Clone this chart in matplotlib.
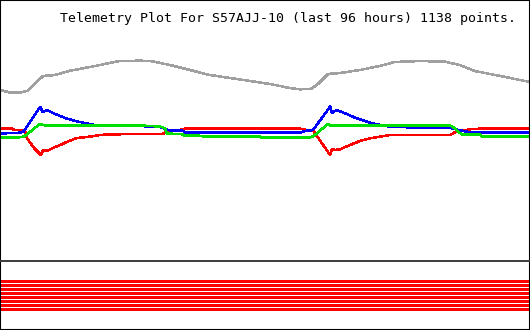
import matplotlib
matplotlib.use("Agg")
import matplotlib.pyplot as plt

# --- datos (horas, nivel arbitrario) ---
gray_t = [0.0, 1.8, 3.6, 4.9, 7.8, 10.0, 12.7, 16.3, 19.0, 21.7, 25.4, 27.2, 30.8,
          34.4, 38.0, 41.7, 45.3, 48.9, 52.5, 54.3, 56.3, 57.6, 59.4, 61.6, 65.2,
          68.8, 71.5, 76.1, 80.6, 83.3, 86.0, 90.6, 96.0]
gray_v = [171, 168.5, 168.5, 170, 185, 186, 190.3, 194, 197, 200, 200.3, 200, 196,
          191, 186, 183, 180, 177, 173, 171.7, 172, 177, 187, 188, 191,
          195, 199, 200, 199.3, 196, 190, 185, 179]

red_t = [0.0, 2.2, 2.4, 4.5, 4.9, 6.0, 7.4, 7.8, 8.5, 9.6, 10.9, 12.1, 13.9, 15.8,
         18.1, 19.9, 29.5, 30.2, 31.7, 33.1, 33.5, 54.3, 55.6, 56.7, 59.8, 60.1,
         60.7, 61.6, 63.4, 65.2, 67.0, 68.8, 70.6, 81.5, 82.4, 83.7, 85.1, 86.9, 96.0]
red_v = [132.3, 132.3, 131.3, 130.5, 123, 114, 106, 111, 110, 113, 116, 119, 123, 124,
         126, 126.7, 127, 130, 130.3, 131.7, 132.3, 132.3, 131, 130.5, 106, 112,
         111, 111.7, 116, 120, 122.7, 124.3, 126, 126, 128.7, 130.3, 131.7, 132.3, 132.5]

blue_t = [0.0, 3.6, 4.3, 7.2, 7.4, 7.6, 7.8, 8.2, 8.5, 10.0, 11.8, 13.6, 15.4, 17.2,
          19.9, 25.4, 29.0, 29.9, 30.8, 33.1, 33.5, 54.3, 55.2, 56.7, 59.8, 60.1,
          61.0, 62.5, 64.3, 66.1, 67.9, 70.6, 76.1, 81.5, 82.4, 83.3, 85.1, 96.0]
blue_v = [127.5, 128.3, 129.5, 153.7, 154, 150, 149, 150, 151, 147, 143, 140, 138, 136,
          135, 135, 134, 132, 130.5, 130.3, 128.3, 128.3, 130, 131, 154.3, 148,
          151, 147.7, 143.3, 140, 137, 134.3, 133.3, 133.3, 132, 130.7, 128.7, 128.3]

green_t = [0.0, 4.0, 4.5, 7.2, 7.6, 8.2, 25.4, 29.0, 29.9, 30.2, 33.1, 33.3, 36.6,
           36.8, 47.1, 47.3, 55.8, 56.7, 59.4, 59.8, 62.5, 81.5, 82.4, 83.0, 83.7,
           86.9, 87.3, 96.0]
green_v = [123.5, 123.8, 125, 137, 136.3, 135.5, 135.5, 134.5, 132.7, 127.5, 126.7, 125.5, 125.2,
           124.3, 124.3, 123.3, 123.3, 124.5, 137, 135.5, 135.7, 135.5, 132.7, 129, 126.7,
           126.5, 124.3, 124.3]

# canales digitales (todos activos durante las 96 horas)
bit_channels = [0, 1, 2, 3, 4, 5, 6, 7]
bit_span = 96.0

title = "Telemetry Plot For S57AJJ-10 (last 96 hours) 1138 points."

fig = plt.figure(figsize=(5.3, 3.3), dpi=100)
sep = 69.0 / 330

# --- canales digitales (abajo, sin fondo para no tapar el separador) ---
ax2 = fig.add_axes([0, 0, 1, sep])
ax2.patch.set_visible(False)
ax2.barh(bit_channels, [bit_span] * len(bit_channels), height=0.75, left=0,
         color="#ff0000", linewidth=0, antialiased=False)
ax2.set_xlim(0, 96)
ax2.set_ylim(12.0, -5.0)
ax2.set_xticks([])
ax2.set_yticks([])
ax2.spines["top"].set_visible(False)
for s in ["bottom", "left", "right"]:
    ax2.spines[s].set_color("black")
    ax2.spines[s].set_linewidth(1.5)

# --- grafico analogico ---
ax = fig.add_axes([0, sep, 1, 1 - sep])
ax.plot(gray_t, gray_v, color="#a0a0a0", lw=1.1, antialiased=False)
ax.plot(red_t, red_v, color="#ff0000", lw=1.1, antialiased=False)
ax.plot(blue_t, blue_v, color="#0000ff", lw=1.1, antialiased=False)
ax.plot(green_t, green_v, color="#00e000", lw=1.1, antialiased=False)
ax.set_xlim(0, 96)
ax.set_ylim(0.0, 261)
ax.set_xticks([])
ax.set_yticks([])
for s in ["top", "left", "right"]:
    ax.spines[s].set_color("black")
    ax.spines[s].set_linewidth(1.5)
ax.spines["bottom"].set_color("#404040")
ax.spines["bottom"].set_linewidth(1.44)

fig.text(60 / 530, 1 - 22.3 / 330, title, ha="left", va="baseline",
         family="DejaVu Sans Mono", fontsize=9.5, color="black")

fig.savefig("out.png", dpi=100)
